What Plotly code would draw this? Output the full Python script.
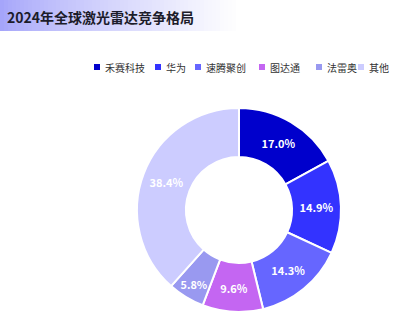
import plotly.graph_objects as go

labels = ["禾赛科技", "华为", "速腾聚创", "图达通", "法雷奥", "其他"]
values = [17.0, 14.9, 14.3, 9.6, 5.8, 38.4]
colors = ["#0000CC", "#3333FF", "#6666FF", "#C466F2", "#9999F0", "#CCCCFF"]
title = "2024年全球激光雷达竞争格局"

W, H = 415, 329
fig = go.Figure()
fig.add_trace(go.Pie(
    labels=labels, values=values, sort=False, direction="clockwise", rotation=0,
    hole=0.52, marker=dict(colors=colors, line=dict(color="white", width=2)),
    texttemplate="%{value:.1f}%", textposition="inside", insidetextorientation="horizontal",
    textfont=dict(color="white", size=11, family="Noto Sans CJK SC", weight=600),
    domain=dict(x=[(239 - 102) / W, (239 + 102) / W], y=[(H - 312) / H, (H - 108) / H]),
    showlegend=False, hoverinfo="label+percent",
))

shapes = []
# gradient title band
n = 60
x0, x1 = 0, 240
c0 = (165, 165, 250)
for i in range(n):
    t = (i / (n - 1)) ** 0.8
    r = int(c0[0] + (255 - c0[0]) * t)
    g = int(c0[1] + (255 - c0[1]) * t)
    b = int(c0[2] + (255 - c0[2]) * t)
    xa = x0 + (x1 - x0) * i / n
    xb = x0 + (x1 - x0) * (i + 1) / n + 0.5
    shapes.append(dict(type="rect", xref="paper", yref="paper",
                       x0=xa / W, x1=xb / W, y0=1 - 31 / H, y1=1,
                       fillcolor=f"rgb({r},{g},{b})", line=dict(width=0), layer="below"))

annotations = [dict(text=f"<b>{title}</b>", x=5 / W, y=1 - 17 / H, xref="paper", yref="paper",
                    xanchor="left", yanchor="middle", showarrow=False,
                    font=dict(size=14, color="#1c1c2a", family="Noto Sans CJK SC"))]

# legend
marker_x = [97, 158, 198, 262, 319, 361]
ly = 67
for lab, col, mx in zip(labels, colors, marker_x):
    shapes.append(dict(type="rect", xref="paper", yref="paper",
                       x0=(mx - 3) / W, x1=(mx + 3) / W, y0=1 - (ly + 3) / H, y1=1 - (ly - 3) / H,
                       fillcolor=col, line=dict(width=0)))
    annotations.append(dict(text=lab, x=(mx + 6) / W, y=1 - ly / H, xref="paper", yref="paper",
                            xanchor="left", yanchor="middle", showarrow=False,
                            font=dict(size=10, color="#333333", family="Noto Sans CJK SC")))

fig.update_layout(width=W, height=H, margin=dict(l=0, r=0, t=0, b=0),
                  paper_bgcolor="white", plot_bgcolor="white",
                  shapes=shapes, annotations=annotations)
fig.write_html("out.html")
